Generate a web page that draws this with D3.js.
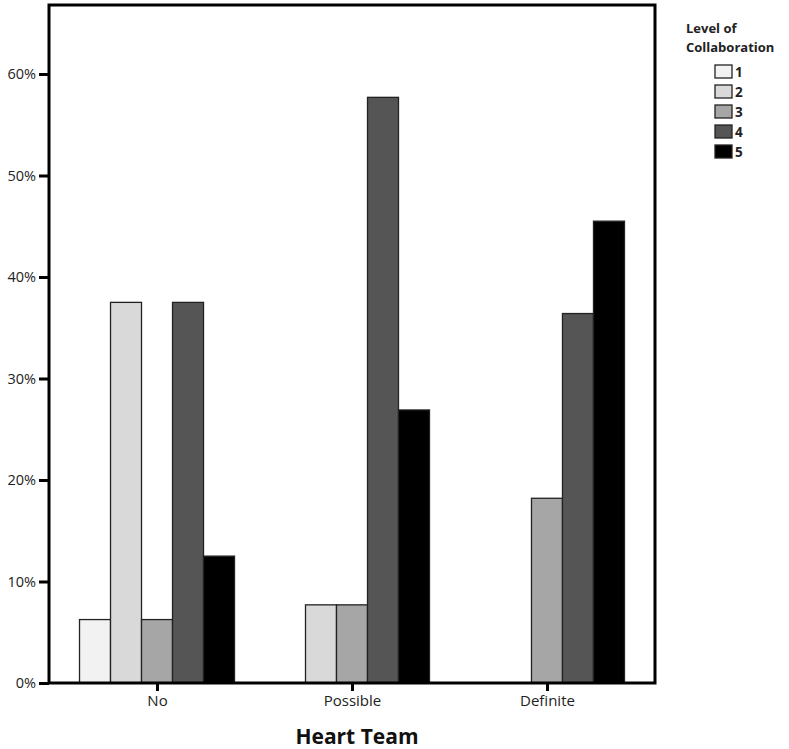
<!DOCTYPE html>
<html>
<head>
<meta charset="utf-8">
<script src="https://cdn.jsdelivr.net/npm/d3@7"></script>
<style>
  body { margin: 0; background: #fff; }
  text { font-family: "Open Sans", "DejaVu Sans", sans-serif; }
</style>
</head>
<body>
<div id="wrapper"></div>
<script>
// data
const groups = ["No", "Possible", "Definite"]
const levels = ["1", "2", "3", "4", "5"]
const levelColors = ["#f2f2f2", "#d9d9d9", "#a6a6a6", "#555555", "#000000"]
const valuesNo = [0.0625, 0.375, 0.0625, 0.375, 0.125]
const valuesPossible = [0, 0.077, 0.077, 0.577, 0.269]
const valuesDefinite = [0, 0, 0.182, 0.364, 0.455]
const yTicks = [0, 0.1, 0.2, 0.3, 0.4, 0.5, 0.6]

const allValues = [valuesNo, valuesPossible, valuesDefinite]
const dataset = []
groups.forEach((g, i) => {
  levels.forEach((l, j) => {
    dataset.push({ group: g, level: l, value: allValues[i][j] })
  })
})

const dimensions = {
  width: 789,
  height: 749,
  margin: { top: 5, right: 134, bottom: 66, left: 49 },
}
dimensions.boundedWidth = dimensions.width - dimensions.margin.left - dimensions.margin.right
dimensions.boundedHeight = dimensions.height - dimensions.margin.top - dimensions.margin.bottom

const wrapper = d3.select("#wrapper")
  .append("svg")
    .attr("width", dimensions.width)
    .attr("height", dimensions.height)

const bounds = wrapper.append("g")
    .attr("transform", `translate(${dimensions.margin.left}, ${dimensions.margin.top})`)

// scales
const xScale = d3.scalePoint()
  .domain(groups)
  .range([0, dimensions.boundedWidth])
  .padding(0.554)

const subScale = d3.scaleBand()
  .domain(levels)
  .range([-77.5, 77.5])

const yScale = d3.scaleLinear()
  .domain([0, 0.6])
  .range([dimensions.boundedHeight, dimensions.boundedHeight - 609])

const colorScale = d3.scaleOrdinal()
  .domain(levels)
  .range(levelColors)

// bars
bounds.selectAll("rect.bar")
  .data(dataset.filter(d => d.value > 0))
  .join("rect")
    .attr("class", "bar")
    .attr("x", d => xScale(d.group) + subScale(d.level))
    .attr("y", d => yScale(d.value))
    .attr("width", subScale.bandwidth())
    .attr("height", d => yScale(0) - yScale(d.value))
    .attr("fill", d => colorScale(d.level))
    .attr("stroke", "#222")
    .attr("stroke-width", 1.3)

// frame
bounds.append("rect")
    .attr("x", 0)
    .attr("y", 0)
    .attr("width", dimensions.boundedWidth)
    .attr("height", dimensions.boundedHeight)
    .attr("fill", "none")
    .attr("stroke", "#000")
    .attr("stroke-width", 3)

// axes
const yAxis = bounds.append("g")
  .call(d3.axisLeft(yScale)
    .tickValues(yTicks)
    .tickFormat(d3.format(".0%"))
    .tickSize(10)
    .tickPadding(3))
yAxis.select(".domain").remove()
yAxis.selectAll(".tick line").attr("stroke", "#000").attr("stroke-width", 3)
yAxis.selectAll(".tick text")
    .attr("font-size", 14.5)
    .attr("fill", "#222")

const xAxis = bounds.append("g")
    .attr("transform", `translate(0, ${dimensions.boundedHeight})`)
  .call(d3.axisBottom(xScale)
    .tickSize(8)
    .tickPadding(4))
xAxis.select(".domain").remove()
xAxis.selectAll(".tick line").attr("stroke", "#000").attr("stroke-width", 3)
xAxis.selectAll(".tick text")
    .attr("font-size", 15)
    .attr("fill", "#222")

bounds.append("text")
    .attr("x", xScale("Possible") + 5)
    .attr("y", dimensions.boundedHeight + 61)
    .attr("text-anchor", "middle")
    .attr("font-size", 21)
    .attr("font-weight", "bold")
    .attr("fill", "#111")
    .text("Heart Team")

// legend
const legend = wrapper.append("g")
    .attr("transform", "translate(686, 0)")

legend.append("text")
    .attr("y", 33)
    .attr("font-size", 13)
    .attr("font-weight", "bold")
    .attr("fill", "#222")
  .selectAll("tspan")
  .data(["Level of", "Collaboration"])
  .join("tspan")
    .attr("x", 0)
    .attr("dy", (d, i) => i === 0 ? 0 : 19)
    .text(d => d)

const legendItems = legend.selectAll("g.item")
  .data(levels)
  .join("g")
    .attr("class", "item")
    .attr("transform", (d, i) => `translate(29, ${65 + i * 20})`)

legendItems.append("rect")
    .attr("width", 17)
    .attr("height", 13)
    .attr("fill", d => colorScale(d))
    .attr("stroke", "#222")
    .attr("stroke-width", 1.3)

legendItems.append("text")
    .attr("x", 20)
    .attr("y", 11.5)
    .attr("font-size", 13.5)
    .attr("font-weight", "bold")
    .attr("fill", "#222")
    .text(d => d)
</script>
</body>
</html>
